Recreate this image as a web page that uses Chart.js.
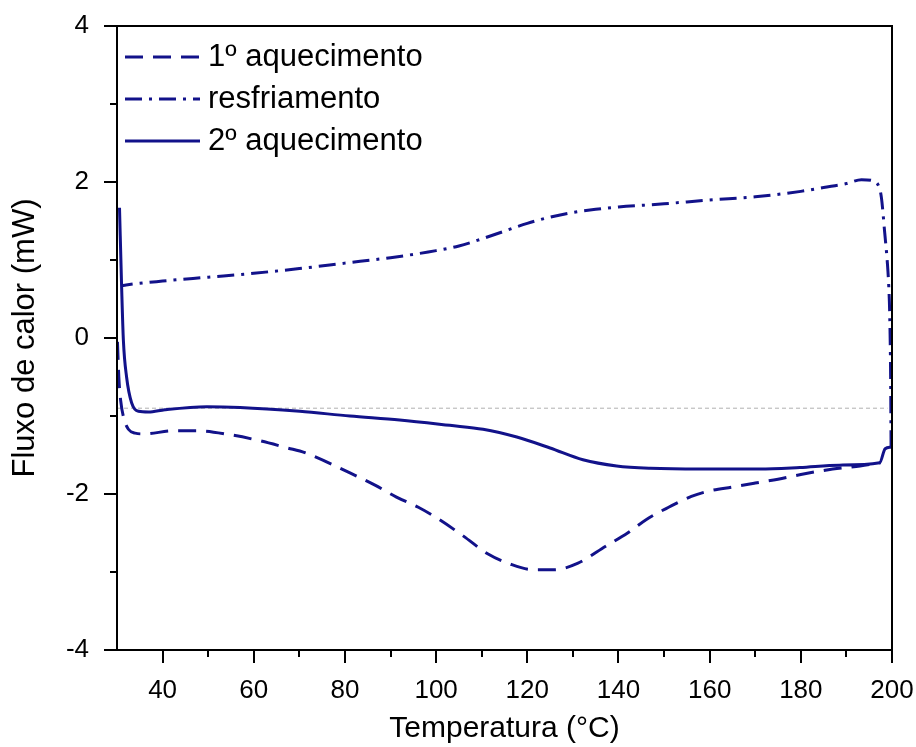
<!DOCTYPE html>
<html>
<head>
<meta charset="utf-8">
<title>DSC</title>
<script src="https://cdn.jsdelivr.net/npm/chart.js@4.4.1/dist/chart.umd.min.js"></script>
<style>
  html, body { margin: 0; padding: 0; background: #fff; }
  #wrap { width: 916px; height: 747px; }
</style>
</head>
<body>
<div id="wrap"><canvas id="dsc" width="916" height="747"></canvas></div>
<script>
// 1º aquecimento (first heating)
const heat1Temp = [30.1, 30.4, 30.8, 31.6, 32.5, 34, 36, 42.3, 48, 54.8, 60.8, 67.4, 71.2, 81.1, 86.7, 91.3, 96.1, 100.5, 106, 111.4, 116.3, 121.3, 126, 131, 137.2, 142, 146.3, 151, 156, 160, 165, 170, 175, 180, 187, 193, 197.5];
const heat1Flow = [-0.05, -0.5, -0.8, -1.05, -1.17, -1.22, -1.23, -1.19, -1.19, -1.24, -1.31, -1.41, -1.47, -1.73, -1.89, -2.04, -2.17, -2.32, -2.54, -2.77, -2.90, -2.97, -2.97, -2.89, -2.67, -2.50, -2.32, -2.17, -2.03, -1.96, -1.91, -1.86, -1.81, -1.75, -1.68, -1.64, -1.60];

// resfriamento (cooling, runs from 200 down to 30)
const coolTemp = [199.8, 199.7, 199.5, 199.3, 199.0, 198.4, 197.7, 197.2, 195.5, 193.3, 190, 185, 180, 170, 160, 150, 140, 135, 130, 125, 120, 115, 110, 105, 100, 90, 80, 70, 60, 50, 40, 32, 31];
const coolFlow = [-1.40, -0.5, 0.3, 0.65, 0.95, 1.35, 1.79, 1.93, 2.02, 2.03, 1.98, 1.93, 1.88, 1.81, 1.77, 1.72, 1.68, 1.65, 1.61, 1.55, 1.47, 1.37, 1.27, 1.18, 1.12, 1.03, 0.96, 0.89, 0.83, 0.78, 0.73, 0.68, 0.67];

// 2º aquecimento (second heating)
const heat2Temp = [30.55, 31.03, 31.4, 32.1, 33.2, 34.7, 36.9, 40.5, 49.7, 57, 70.1, 81.1, 92, 103, 110.3, 117.7, 125, 132.2, 139.6, 147, 158, 171, 179.8, 188.5, 197.3, 198.5, 199.8];
const heat2Flow = [1.67, 0.62, -0.03, -0.5, -0.83, -0.94, -0.95, -0.92, -0.88, -0.89, -0.94, -1.00, -1.05, -1.12, -1.17, -1.27, -1.41, -1.56, -1.64, -1.67, -1.68, -1.68, -1.66, -1.63, -1.60, -1.42, -1.40];

// horizontal reference line
const baseTemp = [30, 199];
const baseFlow = [-0.9, -0.9];

const xTicks = [40, 60, 80, 100, 120, 140, 160, 180, 200];
const xMinor = [50, 70, 90, 110, 130, 150, 170, 190];
const yTicks = [-4, -2, 0, 2, 4];
const yMinor = [-3, -1, 1, 3];

const navy = '#12128a';

function points(xs, ys) {
    return xs.map((t, i) => ({ x: t, y: ys[i] }));
}

Chart.defaults.font.family = '"Liberation Sans", Arial, sans-serif';
Chart.defaults.color = '#000';

// box around the plot plus major/minor tick marks
const axesFrame = {
    id: 'axesFrame',
    afterDatasetsDraw(chart) {
        const { ctx, chartArea: a, scales: { x, y } } = chart;
        ctx.save();
        ctx.strokeStyle = '#000';
        ctx.lineWidth = 2;
        ctx.strokeRect(a.left, a.top, a.right - a.left, a.bottom - a.top);
        ctx.beginPath();
        xTicks.forEach(v => {
            const px = Math.round(x.getPixelForValue(v));
            ctx.moveTo(px, a.bottom); ctx.lineTo(px, a.bottom + 13);
        });
        xMinor.forEach(v => {
            const px = Math.round(x.getPixelForValue(v));
            ctx.moveTo(px, a.bottom); ctx.lineTo(px, a.bottom + 7);
        });
        yTicks.forEach(v => {
            const py = Math.round(y.getPixelForValue(v));
            ctx.moveTo(a.left, py); ctx.lineTo(a.left - 13, py);
        });
        yMinor.forEach(v => {
            const py = Math.round(y.getPixelForValue(v));
            ctx.moveTo(a.left, py); ctx.lineTo(a.left - 7, py);
        });
        ctx.stroke();
        ctx.restore();
    }
};

// legend inside the plot, top-left
const innerLegend = {
    id: 'innerLegend',
    afterDraw(chart) {
        const { ctx } = chart;
        ctx.save();
        ctx.font = '31px "Liberation Sans", Arial, sans-serif';
        ctx.textBaseline = 'middle';
        ctx.fillStyle = '#000';
        chart.data.datasets.filter(d => d.label).forEach((d, i) => {
            const yy = 57 + i * 42;
            ctx.strokeStyle = d.borderColor;
            ctx.lineWidth = d.borderWidth;
            ctx.setLineDash(d.borderDash || []);
            ctx.beginPath();
            ctx.moveTo(125, yy);
            ctx.lineTo(200, yy);
            ctx.stroke();
            ctx.fillText(d.label, 208, yy);
        });
        ctx.restore();
    }
};

const curve = { pointRadius: 0, borderColor: navy, borderWidth: 3, cubicInterpolationMode: 'monotone' };

new Chart(document.getElementById('dsc'), {
    type: 'line',
    data: {
        datasets: [
            Object.assign({ label: '1º aquecimento', data: points(heat1Temp, heat1Flow), borderDash: [18, 10] }, curve),
            Object.assign({ label: 'resfriamento', data: points(coolTemp, coolFlow), borderDash: [17, 7, 3, 7] }, curve),
            Object.assign({ label: '2º aquecimento', data: points(heat2Temp, heat2Flow) }, curve),
            {
                label: '',
                data: points(baseTemp, baseFlow),
                borderColor: '#b0b0b0',
                borderWidth: 1,
                borderDash: [4, 3],
                pointRadius: 0
            }
        ]
    },
    options: {
        responsive: false,
        animation: false,
        layout: { padding: { top: 26, right: 24, left: 0, bottom: 0 } },
        plugins: {
            legend: { display: false },
            tooltip: { enabled: false }
        },
        scales: {
            x: {
                type: 'linear',
                min: 30,
                max: 200,
                grid: { display: false },
                border: { display: false },
                afterBuildTicks: s => { s.ticks = xTicks.map(v => ({ value: v })); },
                afterFit: s => {
                    s.height = 97;
                    s.paddingLeft = 0;
                    s.paddingRight = 0;
                },
                ticks: { padding: 17, font: { size: 26 }, maxRotation: 0 },
                title: {
                    display: true,
                    text: 'Temperatura (°C)',
                    font: { size: 30 },
                    padding: { top: 0, bottom: 0 }
                }
            },
            y: {
                min: -4,
                max: 4,
                grid: { display: false },
                border: { display: false },
                afterBuildTicks: s => { s.ticks = yTicks.map(v => ({ value: v })); },
                afterFit: s => {
                    s.width = 117;
                    s.paddingTop = 0;
                    s.paddingBottom = 0;
                },
                ticks: { padding: 20, font: { size: 26 } },
                title: {
                    display: true,
                    text: 'Fluxo de calor (mW)',
                    font: { size: 31 },
                    padding: { top: 7, bottom: 0 }
                }
            }
        }
    },
    plugins: [axesFrame, innerLegend]
});
</script>
</body>
</html>
